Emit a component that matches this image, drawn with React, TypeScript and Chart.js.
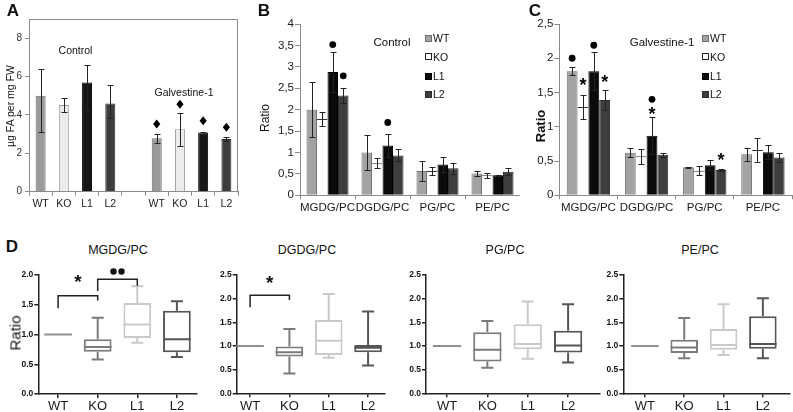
import React, { useEffect, useRef } from 'react';
import { Chart, registerables } from 'chart.js';

Chart.register(...registerables);
Chart.defaults.font.family = '"Liberation Sans", Arial, Helvetica, sans-serif';

// ---------------- DATA ----------------
// Panel A: total fatty acids (µg FA per mg FW)
const aLabels = ['WT', 'KO', 'L1', 'L2', '', 'WT', 'KO', 'L1', 'L2'];
const aMeans = [5.0, 4.52, 5.69, 4.6, null, 2.78, 3.25, 3.08, 2.75];
const aLow = [3.13, 4.14, 4.21, 3.85, null, 2.56, 2.4, 3.03, 2.66];
const aHigh = [6.38, 4.9, 6.61, 5.55, null, 3.0, 4.09, 3.12, 2.84];
const aDiamonds = [null, null, null, null, null, 3.53, 4.56, 3.7, 3.36];

// Panels B & C: lipid ratios
const lipidClasses = ['MGDG/PC', 'DGDG/PC', 'PG/PC', 'PE/PC'];
const lines = ['WT', 'KO', 'L1', 'L2'];

const ctrlWT = [2.0, 1.0, 0.57, 0.51];
const ctrlKO = [1.78, 0.75, 0.57, 0.47];
const ctrlL1 = [2.88, 1.16, 0.72, 0.47];
const ctrlL2 = [2.33, 0.93, 0.63, 0.55];
const ctrlWTsd = [0.64, 0.41, 0.23, 0.065];
const ctrlKOsd = [0.155, 0.115, 0.09, 0.06];
const ctrlL1sd = [0.47, 0.27, 0.18, 0.012];
const ctrlL2sd = [0.185, 0.14, 0.135, 0.08];
const ctrlDotsL1 = [3.52, 1.7, null, null];
const ctrlDotsL2 = [2.79, null, null, null];

const galvWT = [1.81, 0.62, 0.41, 0.6];
const galvKO = [1.29, 0.57, 0.36, 0.66];
const galvL1 = [1.81, 0.87, 0.44, 0.63];
const galvL2 = [1.39, 0.59, 0.37, 0.55];
const galvWTsd = [0.06, 0.065, 0.006, 0.095];
const galvKOsd = [0.175, 0.11, 0.07, 0.17];
const galvL1sd = [0.28, 0.27, 0.07, 0.105];
const galvL2sd = [0.14, 0.025, 0.012, 0.065];
const galvDotsWT = [2.0, null, null, null];
const galvDotsL1 = [2.19, 1.4, null, null];
const galvStarsKO = [1.66, null, null, null];
const galvStarsL1 = [null, 1.24, null, null];
const galvStarsL2 = [1.71, null, 0.56, null];

// Panel D: box plots (min, q1, median, q3, max), relative to WT
const dCats = ['WT', 'KO', 'L1', 'L2'];
const mgdgBoxes = [[1, 1, 1, 1, 1], [0.58, 0.71, 0.79, 0.92, 1.28], [0.86, 0.94, 1.17, 1.53, 1.81], [0.62, 0.7, 0.92, 1.4, 1.56]];
const dgdgBoxes = [[1, 1, 1, 1, 1], [0.42, 0.78, 0.87, 0.99, 1.36], [0.75, 0.81, 1.11, 1.55, 2.1], [0.59, 0.87, 0.96, 1.02, 1.73]];
const pgBoxes = [[1, 1, 1, 1, 1], [0.54, 0.67, 0.92, 1.29, 1.53], [0.73, 0.93, 1.04, 1.46, 1.94], [0.65, 0.86, 1.01, 1.32, 1.88]];
const peBoxes = [[1, 1, 1, 1, 1], [0.74, 0.85, 0.97, 1.13, 1.59], [0.81, 0.92, 1.02, 1.36, 1.88], [0.74, 0.94, 1.04, 1.63, 2.01]];
// significance brackets: [fromIdx, toIdx, barY, legFromY, legToY, mark, markY]
const mgdgBrackets: [number, number, number, number, number, string, number][] = [
  [0, 1, 1.65, 1.44, 1.57, '*', 1.95],
  [1, 2, 1.93, 1.73, 1.82, '••', 2.06],
];
const dgdgBrackets: [number, number, number, number, number, string, number][] = [
  [0, 1, 2.07, 1.82, 1.97, '*', 2.41],
];

// ---------------- STYLE / LAYOUT ----------------
const FONT = '"Liberation Sans", Arial, Helvetica, sans-serif';
const axisGray = '#8a8a8a';
const aFill = ['#9a9a9a', '#ececec', '#161616', '#3d3d3d', '#fff', '#9a9a9a', '#ececec', '#161616', '#3d3d3d'];
const aStroke = ['#6a6a6a', '#9a9a9a', '#000', '#2a2a2a', '#fff', '#6a6a6a', '#9a9a9a', '#000', '#2a2a2a'];
const lineFill = ['#a3a3a3', '#ffffff', '#0b0b0b', '#3e3e3e'];
const lineStroke = ['#6f6f6f', '#333333', '#000000', '#2a2a2a'];
const boxColors = ['#8f8f8f', '#7b7b7b', '#c9c9c9', '#565656'];

type Box = { left: number; top: number; width: number; height: number };
type Plot = { l: number; t: number; r: number; b: number };

function fit(box: Box, plot: Plot) {
  return {
    padding: { left: 0, top: plot.t - box.top, right: box.left + box.width - plot.r, bottom: 0 },
    yWidth: plot.l - box.left,
    xHeight: box.top + box.height - plot.b,
  };
}

const boxA: Box = { left: 0, top: 0, width: 258, height: 214 };
const plotA: Plot = { l: 29, t: 19, r: 238, b: 191.7 };
const boxB: Box = { left: 258, top: 0, width: 262, height: 214 };
const plotB: Plot = { l: 300, t: 24, r: 520, b: 195.3 };
const boxC: Box = { left: 520, top: 0, width: 273, height: 214 };
const plotC: Plot = { l: 559.3, t: 24, r: 792, b: 195.3 };
const boxD: Box[] = [
  { left: 0, top: 262, width: 205, height: 150 },
  { left: 205, top: 262, width: 190, height: 150 },
  { left: 395, top: 262, width: 210, height: 150 },
  { left: 605, top: 262, width: 188, height: 150 },
];
const plotD: Plot[] = [
  { l: 38.3, t: 275, r: 196.7, b: 394 },
  { l: 236.7, t: 275, r: 385, b: 393.3 },
  { l: 426, t: 275, r: 600, b: 393.3 },
  { l: 623.3, t: 275, r: 790, b: 393.3 },
];
const xRangeD = [[0.5, 4.5], [0.66, 4.43], [0.48, 4.79], [0.45, 4.69]];

// ---------------- PLUGINS ----------------
function errorBars(lows: (number | null)[][], highs: (number | null)[][], cap: number) {
  return {
    id: 'errorBars',
    afterDatasetsDraw(chart: any) {
      const ctx = chart.ctx;
      const y = chart.scales.y;
      ctx.save();
      ctx.strokeStyle = '#222';
      ctx.lineWidth = 1;
      chart.data.datasets.forEach((_: any, di: number) => {
        const meta = chart.getDatasetMeta(di);
        meta.data.forEach((el: any, i: number) => {
          const lo = lows[di][i];
          const hi = highs[di][i];
          if (lo == null || hi == null) return;
          const x = Math.round(el.x) + 0.5;
          const y1 = Math.round(y.getPixelForValue(lo)) + 0.5;
          const y2 = Math.round(y.getPixelForValue(hi)) + 0.5;
          ctx.beginPath();
          ctx.moveTo(x, y1);
          ctx.lineTo(x, y2);
          ctx.moveTo(x - cap, y1);
          ctx.lineTo(x + cap, y1);
          ctx.moveTo(x - cap, y2);
          ctx.lineTo(x + cap, y2);
          ctx.stroke();
        });
      });
      ctx.restore();
    },
  };
}

const framePlugin = {
  id: 'frame',
  afterDraw(chart: any) {
    const { ctx, chartArea } = chart;
    ctx.save();
    ctx.strokeStyle = axisGray;
    ctx.lineWidth = 1;
    const l = Math.round(chartArea.left) + 0.5;
    const t = Math.round(chartArea.top) + 0.5;
    const r = Math.round(chartArea.right) - 0.5;
    const b = Math.round(chartArea.bottom) + 0.5;
    ctx.beginPath();
    ctx.moveTo(l, t);
    ctx.lineTo(r, t);
    ctx.lineTo(r, b);
    ctx.stroke();
    ctx.restore();
  },
};

function diamondPlugin(vals: (number | null)[]) {
  return {
    id: 'diamonds',
    afterDatasetsDraw(chart: any) {
      const ctx = chart.ctx;
      const y = chart.scales.y;
      const meta = chart.getDatasetMeta(0);
      ctx.save();
      ctx.fillStyle = '#000';
      vals.forEach((v, i) => {
        if (v == null) return;
        const el = meta.data[i];
        const py = y.getPixelForValue(v);
        ctx.beginPath();
        ctx.moveTo(el.x, py - 4.5);
        ctx.lineTo(el.x + 3.6, py);
        ctx.lineTo(el.x, py + 4.5);
        ctx.lineTo(el.x - 3.6, py);
        ctx.closePath();
        ctx.fill();
      });
      ctx.restore();
    },
  };
}

function drawStar(ctx: any, x: number, py: number, size: number) {
  ctx.font = `bold ${size}px ${FONT}`;
  ctx.textAlign = 'center';
  ctx.textBaseline = 'alphabetic';
  ctx.fillText('*', x, py + size * 0.53);
}

function markPlugin(dots: (number | null)[][], stars: (number | null)[][]) {
  return {
    id: 'marks',
    afterDatasetsDraw(chart: any) {
      const ctx = chart.ctx;
      const y = chart.scales.y;
      ctx.save();
      ctx.fillStyle = '#000';
      dots.forEach((arr, di) => {
        const meta = chart.getDatasetMeta(di);
        arr.forEach((v, i) => {
          if (v == null) return;
          const el = meta.data[i];
          ctx.beginPath();
          ctx.arc(el.x, y.getPixelForValue(v), 3.4, 0, Math.PI * 2);
          ctx.fill();
        });
      });
      stars.forEach((arr, di) => {
        const meta = chart.getDatasetMeta(di);
        arr.forEach((v, i) => {
          if (v == null) return;
          const el = meta.data[i];
          drawStar(ctx, el.x, y.getPixelForValue(v), 18);
        });
      });
      ctx.restore();
    },
  };
}

function boxPlugin(boxes: number[][], brackets: [number, number, number, number, number, string, number][]) {
  return {
    id: 'boxes',
    afterDatasetsDraw(chart: any) {
      const ctx = chart.ctx;
      const x = chart.scales.x;
      const y = chart.scales.y;
      const meta = chart.getDatasetMeta(0);
      ctx.save();
      ctx.lineWidth = 2;
      boxes.forEach((b, i) => {
        const el = meta.data[i];
        const cx = x.getPixelForValue(i + 1);
        const hw = (el.width || 27) / 2;
        const cw = 6;
        ctx.strokeStyle = boxColors[i];
        ctx.beginPath();
        if (b[1] === b[3]) {
          const py = y.getPixelForValue(b[2]);
          ctx.moveTo(cx - hw, py);
          ctx.lineTo(cx + hw, py);
          ctx.stroke();
          return;
        }
        const yMin = y.getPixelForValue(b[0]);
        const yQ1 = y.getPixelForValue(b[1]);
        const yMed = y.getPixelForValue(b[2]);
        const yQ3 = y.getPixelForValue(b[3]);
        const yMax = y.getPixelForValue(b[4]);
        ctx.moveTo(cx, yQ3);
        ctx.lineTo(cx, yMax);
        ctx.moveTo(cx - cw, yMax);
        ctx.lineTo(cx + cw, yMax);
        ctx.moveTo(cx, yQ1);
        ctx.lineTo(cx, yMin);
        ctx.moveTo(cx - cw, yMin);
        ctx.lineTo(cx + cw, yMin);
        ctx.moveTo(cx - hw, yMed);
        ctx.lineTo(cx + hw, yMed);
        ctx.stroke();
      });
      ctx.strokeStyle = '#222';
      ctx.fillStyle = '#111';
      ctx.lineWidth = 1.5;
      brackets.forEach(([a, bIdx, by, la, lb, mark, my]) => {
        const xa = x.getPixelForValue(a + 1);
        const xb = x.getPixelForValue(bIdx + 1);
        const py = y.getPixelForValue(by);
        ctx.beginPath();
        ctx.moveTo(xa, y.getPixelForValue(la));
        ctx.lineTo(xa, py);
        ctx.lineTo(xb, py);
        ctx.lineTo(xb, y.getPixelForValue(lb));
        ctx.stroke();
        const mx = (xa + xb) / 2;
        const mpy = y.getPixelForValue(my);
        if (mark === '*') {
          drawStar(ctx, mx, mpy, 19);
        } else {
          [-4, 4].forEach((dx) => {
            ctx.beginPath();
            ctx.arc(mx + dx, mpy, 3.2, 0, Math.PI * 2);
            ctx.fill();
          });
        }
      });
      ctx.restore();
    },
  };
}

// ---------------- CHART CONFIGS ----------------
const baseOpts = {
  responsive: false,
  animation: false,
  devicePixelRatio: 1,
  plugins: { legend: { display: false }, tooltip: { enabled: false } },
};

function makeA() {
  const f = fit(boxA, plotA);
  return {
    type: 'bar',
    data: {
      labels: aLabels,
      datasets: [
        {
          data: aMeans,
          backgroundColor: aFill,
          borderColor: aStroke,
          borderWidth: 1,
          barPercentage: 0.43,
          categoryPercentage: 1,
        },
      ],
    },
    options: {
      ...baseOpts,
      layout: { padding: f.padding },
      scales: {
        x: {
          grid: { offset: true, drawOnChartArea: false, tickLength: 4, color: axisGray },
          border: { color: axisGray },
          ticks: { color: '#222', font: { size: 10.5 }, padding: 2, autoSkip: false, maxRotation: 0 },
          afterFit: (s: any) => { s.height = f.xHeight; },
        },
        y: {
          min: 0,
          max: 9,
          ticks: { stepSize: 2, color: '#333', font: { size: 10 }, padding: 3 },
          grid: { drawOnChartArea: false, tickLength: 4, color: axisGray },
          border: { color: axisGray },
          afterFit: (s: any) => { s.width = f.yWidth; },
          afterBuildTicks: (s: any) => { s.ticks = s.ticks.filter((t: any) => t.value % 2 === 0); },
        },
      },
    },
    plugins: [framePlugin, errorBars([aLow], [aHigh], 3), diamondPlugin(aDiamonds)],
  };
}

function makeRatio(
  box: Box, plot: Plot, max: number,
  means: number[][], sds: number[][],
  dots: (number | null)[][], stars: (number | null)[][], catPct: number,
) {
  const f = fit(box, plot);
  const lows = means.map((m, i) => m.map((v, j) => v - sds[i][j]));
  const highs = means.map((m, i) => m.map((v, j) => v + sds[i][j]));
  return {
    type: 'bar',
    data: {
      labels: lipidClasses,
      datasets: lines.map((name, i) => ({
        label: name,
        data: means[i],
        backgroundColor: lineFill[i],
        borderColor: lineStroke[i],
        borderWidth: i === 1 ? { top: 1, left: 0, right: 0, bottom: 0 } : 1,
        barPercentage: 1,
        categoryPercentage: catPct,
      })),
    },
    options: {
      ...baseOpts,
      layout: { padding: f.padding },
      scales: {
        x: {
          grid: { offset: true, drawOnChartArea: false, tickLength: 4, color: axisGray },
          border: { color: axisGray },
          ticks: { color: '#1a1a1a', font: { size: 11.5 }, padding: 2, autoSkip: false, maxRotation: 0 },
          afterFit: (s: any) => { s.height = f.xHeight; },
        },
        y: {
          min: 0,
          max,
          ticks: {
            stepSize: 0.5,
            color: '#1a1a1a',
            font: { size: 11.5 },
            padding: 1,
            callback: (v: any) => String(v).replace('.', ','),
          },
          grid: { drawOnChartArea: false, tickLength: 5, color: axisGray },
          border: { color: axisGray },
          afterFit: (s: any) => { s.width = f.yWidth; },
        },
      },
    },
    plugins: [errorBars(lows, highs, 3), markPlugin(dots, stars)],
  };
}

function makeBoxPanel(i: number, boxes: number[][], brackets: any[], yMax: number) {
  const f = fit(boxD[i], plotD[i]);
  return {
    type: 'bar',
    data: {
      datasets: [
        {
          data: boxes.map((b, k) => ({ x: k + 1, y: [b[1], b[3]] })),
          backgroundColor: '#ffffff',
          borderColor: boxColors,
          borderWidth: 2,
          borderSkipped: false,
          barPercentage: 0.7,
          categoryPercentage: 1,
        },
      ],
    },
    options: {
      ...baseOpts,
      layout: { padding: f.padding },
      scales: {
        x: {
          type: 'linear',
          offset: false,
          min: xRangeD[i][0],
          max: xRangeD[i][1],
          grid: { offset: false, drawOnChartArea: false, tickLength: 4, color: '#222', lineWidth: 1.5 },
          border: { color: '#222', width: 1.5 },
          ticks: {
            color: '#1a1a1a',
            font: { size: 13 },
            padding: 1,
            callback: (v: any) => dCats[v - 1] ?? '',
          },
          afterBuildTicks: (s: any) => { s.ticks = dCats.map((_, k) => ({ value: k + 1 })); },
          afterFit: (s: any) => { s.height = f.xHeight; },
        },
        y: {
          min: 0,
          max: yMax,
          ticks: {
            stepSize: 0.5,
            color: '#111',
            font: { size: 8.5, weight: 'bold' },
            padding: 1,
            callback: (v: any) => Number(v).toFixed(1),
          },
          grid: { drawOnChartArea: false, tickLength: 4, color: '#222', lineWidth: 1.5 },
          border: { color: '#222', width: 1.5 },
          afterFit: (s: any) => { s.width = f.yWidth; },
        },
      },
    },
    plugins: [boxPlugin(boxes, brackets)],
  };
}

// ---------------- COMPONENTS ----------------
function ChartCanvas({ box, make }: { box: Box; make: () => any }) {
  const ref = useRef<HTMLCanvasElement>(null);
  useEffect(() => {
    const chart = new Chart(ref.current as HTMLCanvasElement, make());
    return () => chart.destroy();
  }, []);
  return (
    <canvas
      ref={ref}
      width={box.width}
      height={box.height}
      style={{ position: 'absolute', left: box.left, top: box.top, width: box.width, height: box.height }}
    />
  );
}

function Txt({ x, y, size, bold, rot, children }: { x: number; y: number; size: number; bold?: boolean; rot?: boolean; children: any }) {
  return (
    <div
      style={{
        position: 'absolute',
        left: x,
        top: y,
        transform: `translate(-50%, -50%)${rot ? ' rotate(-90deg)' : ''}`,
        font: `${bold ? 'bold ' : ''}${size}px ${FONT}`,
        lineHeight: 1,
        whiteSpace: 'nowrap',
        color: '#111',
      }}
    >
      {children}
    </div>
  );
}

function Legend({ x, ys }: { x: number; ys: number[] }) {
  return (
    <>
      {lines.map((name, i) => (
        <div key={name} style={{ position: 'absolute', left: x, top: ys[i] - 6, height: 12, display: 'flex', alignItems: 'center' }}>
          <div style={{ width: 5, height: 5, background: lineFill[i], border: `1px solid ${i === 1 ? '#222' : lineStroke[i]}` }} />
          <span style={{ font: `10.5px ${FONT}`, marginLeft: 1, color: '#111' }}>{name}</span>
        </div>
      ))}
    </>
  );
}

export default function App() {
  return (
    <div style={{ position: 'absolute', left: 0, top: 0, width: 793, height: 412, overflow: 'hidden', background: '#fff' }}>
      <ChartCanvas box={boxA} make={makeA} />
      <ChartCanvas
        box={boxB}
        make={() => makeRatio(boxB, plotB, 4,
          [ctrlWT, ctrlKO, ctrlL1, ctrlL2], [ctrlWTsd, ctrlKOsd, ctrlL1sd, ctrlL2sd],
          [[], [], ctrlDotsL1, ctrlDotsL2], [[], [], [], []], 0.765)}
      />
      <ChartCanvas
        box={boxC}
        make={() => makeRatio(boxC, plotC, 2.5,
          [galvWT, galvKO, galvL1, galvL2], [galvWTsd, galvKOsd, galvL1sd, galvL2sd],
          [galvDotsWT, [], galvDotsL1, []], [[], galvStarsKO, galvStarsL1, galvStarsL2], 0.745)}
      />
      <ChartCanvas box={boxD[0]} make={() => makeBoxPanel(0, mgdgBoxes, mgdgBrackets, 2.0)} />
      <ChartCanvas box={boxD[1]} make={() => makeBoxPanel(1, dgdgBoxes, dgdgBrackets, 2.5)} />
      <ChartCanvas box={boxD[2]} make={() => makeBoxPanel(2, pgBoxes, [], 2.5)} />
      <ChartCanvas box={boxD[3]} make={() => makeBoxPanel(3, peBoxes, [], 2.5)} />

      <Txt x={13} y={10} size={17} bold>A</Txt>
      <Txt x={264} y={10} size={17} bold>B</Txt>
      <Txt x={535} y={10} size={17} bold>C</Txt>
      <Txt x={12} y={246} size={17} bold>D</Txt>

      <Txt x={10} y={106} size={10.5} rot>µg FA per mg FW</Txt>
      <Txt x={75.5} y={50} size={10.5}>Control</Txt>
      <Txt x={184} y={92} size={10.5}>Galvestine-1</Txt>

      <Txt x={265} y={118} size={12} rot>Ratio</Txt>
      <Txt x={392} y={43} size={11.5}>Control</Txt>
      <Legend x={425} ys={[38.3, 56.7, 76, 94.3]} />

      <Txt x={540} y={126} size={13} bold rot>Ratio</Txt>
      <Txt x={662} y={43} size={11.5}>Galvestine-1</Txt>
      <Legend x={702} ys={[38.3, 56.7, 76, 94.3]} />

      <Txt x={15} y={333} size={15} rot>Ratio</Txt>
      <Txt x={118} y={250} size={12.5}>MGDG/PC</Txt>
      <Txt x={307} y={250} size={12.5}>DGDG/PC</Txt>
      <Txt x={505} y={250} size={12.5}>PG/PC</Txt>
      <Txt x={700} y={250} size={12.5}>PE/PC</Txt>
    </div>
  );
}
